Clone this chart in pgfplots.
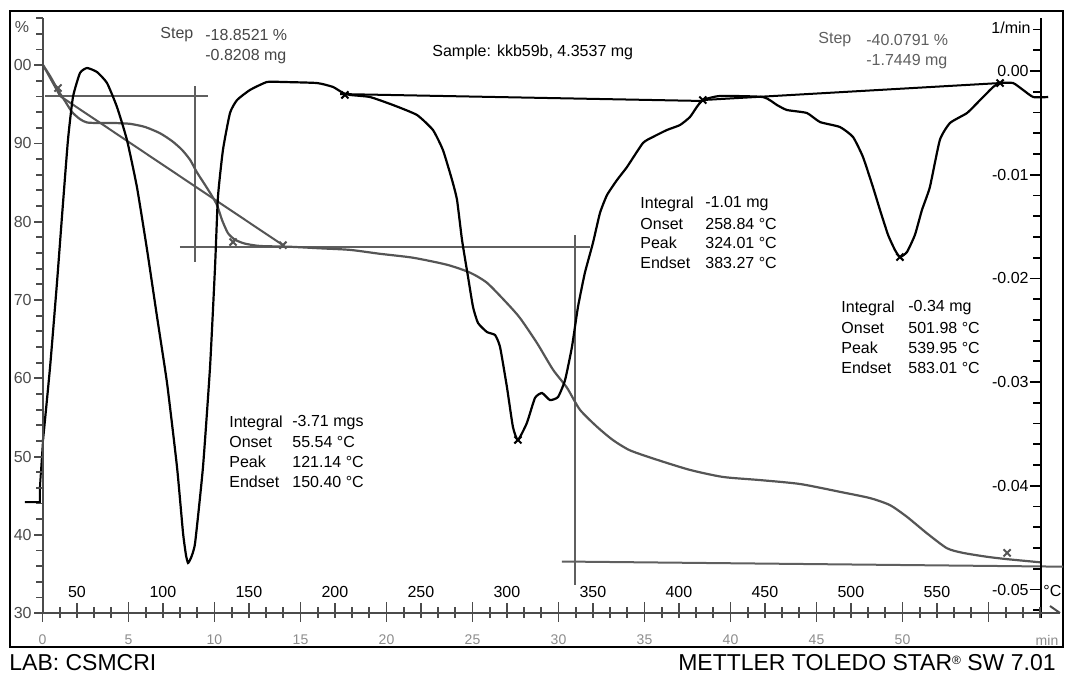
\documentclass[border=0pt]{standalone}
\usepackage{pgfplots}
\pgfplotsset{compat=1.18}
\usepackage{fontspec}
\setmainfont{Liberation Sans}
\definecolor{tgc}{RGB}{85,85,85}
\definecolor{annc}{RGB}{95,95,95}
\definecolor{axgray}{RGB}{75,75,75}
\definecolor{lblc}{RGB}{140,140,140}
\definecolor{stepc}{RGB}{70,70,70}
\pgfplotsset{
  mybase/.style={
    at={(5pt,-323.5pt)}, anchor=south west,
    scale only axis, width=526.5pt, height=318pt,
    xmin=11.1, xmax=623.3,
    xtick=\empty, ytick=\empty,
    clip=false,
  }
}
\begin{document}
\begin{tikzpicture}
\useasboundingbox (0,0) rectangle (533pt,-337.5pt);
% ---------------- TG axis (left, %) ----------------
\begin{axis}[mybase, ymin=25.68, ymax=106.91, axis line style={line width=1pt, black}]
% construction lines
\addplot[annc, line width=1pt] coordinates {(31.45,96.05) (126.2,96.05)};
\addplot[annc, line width=1pt] coordinates {(118.7,97.33) (118.7,74.85)};
\addplot[annc, line width=1pt] coordinates {(109.9,76.8) (348.3,76.8)};
\addplot[annc, line width=1pt] coordinates {(339.6,78.3) (339.6,33.6)};
\addplot[annc, line width=1pt] coordinates {(332.0,36.6) (623.3,35.94)};
% straight gray curve
\addplot[tgc, line width=1pt] coordinates {(30.3,100.0) (40.2,96.05) (169.8,77.0)};
% TG curve
\addplot[tgc, line width=1.1pt, smooth, tension=0.4] coordinates {
(30.3,100.0) (34.4,98.6) (39.0,96.8) (43.1,95.4) (47.2,94.0) (51.8,93.1)
(55.9,92.67) (63.4,92.6) (72.2,92.6) (80.9,92.5) (89.6,92.1) (98.3,91.3)
(105.3,90.3) (111.0,89.2) (115.8,87.9) (119.8,86.3) (124.5,84.7) (128.5,83.3)
(131.5,82.1) (134.4,80.2) (137.8,78.55) (141.9,77.7) (147.7,77.2) (156.5,76.9)
(173.9,76.8) (191.3,76.6) (208.8,76.4) (226.2,75.9) (245.4,75.4) (265.2,74.5)
(278.5,73.5) (288.4,72.2) (300.0,69.6) (307.6,67.7) (317.5,64.5) (326.8,61.1)
(334.9,58.8) (342.4,56.0) (352.4,53.8) (361.7,52.1) (371.5,50.8) (387.2,49.6)
(406.4,48.3) (425.6,47.4) (447.2,47.0) (470.4,46.5) (493.6,45.5) (511.1,44.7)
(522.7,43.8) (532.6,42.3) (544.2,40.2) (555.8,38.3) (565.2,37.7) (579.2,37.2)
(590.8,36.9) (610.0,36.5)};
% markers on TG
\addplot[only marks, tgc, mark=x, mark size=2.5pt, mark options={line width=1pt}] coordinates {
(39.0,97.07) (140.8,77.4) (169.8,77.0) (590.8,37.7)};
\end{axis}
% ---------------- DTG axis (right, 1/min) ----------------
\begin{axis}[mybase, ymin=-0.055545, ymax=0.005786, hide axis]
\addplot[black, line width=1pt] coordinates {(203.0,-0.00222) (413.9,-0.00289)};
\addplot[black, line width=1pt] coordinates {(413.9,-0.00280) (586.7,-0.00116)};
\addplot[black, line width=1pt] coordinates {(19.8,-0.04157) (28.5,-0.04157) (28.5,-0.04012) (30.3,-0.03558)};
\addplot[black, line width=1.1pt, smooth, tension=0.3] coordinates {
(30.3,-0.03558) (34.4,-0.02854)
(38.4,-0.02044) (41.3,-0.01408) (44.8,-0.00665) (47.7,-0.00251) (51.8,-0.00019)
(55.9,0.00029) (61.7,-0.00010) (67.5,-0.00116) (73.3,-0.00347) (79.1,-0.00665)
(84.9,-0.01119) (90.8,-0.01726) (96.6,-0.02372) (102.4,-0.03009) (108.2,-0.03819)
(111.7,-0.04455) (113.4,-0.04667) (114.6,-0.04744) (116.3,-0.04696) (118.7,-0.04552)
(123.3,-0.03819) (127.4,-0.02854) (130.3,-0.01890) (132.0,-0.01215) (134.9,-0.00762)
(139.0,-0.00405) (143.1,-0.00280) (150.6,-0.00183) (160.5,-0.00106) (169.8,-0.00106)
(189.6,-0.00116) (198.9,-0.00154) (204.7,-0.00212) (208.8,-0.00231) (220.4,-0.00251)
(233.8,-0.00328) (247.7,-0.00424) (257.0,-0.00569) (262.8,-0.00762) (268.1,-0.01051)
(271.0,-0.01244) (273.9,-0.01630) (277.4,-0.01986) (280.3,-0.02276) (283.2,-0.02430)
(288.4,-0.02517) (293.1,-0.02546) (296.0,-0.02661) (300.0,-0.03047) (303.5,-0.03433)
(306.4,-0.03558) (311.6,-0.03394) (316.3,-0.03153) (320.4,-0.03105) (325.0,-0.03173)
(329.7,-0.03144) (333.8,-0.02980) (337.8,-0.02661) (341.3,-0.02276) (345.3,-0.01948)
(350.0,-0.01659) (354.1,-0.01369) (358.2,-0.01196) (364.0,-0.01051) (369.8,-0.00926)
(379.1,-0.00694) (384.9,-0.00636) (393.0,-0.00569) (400.6,-0.00521) (406.4,-0.00444)
(410.4,-0.00347) (413.9,-0.00280) (423.8,-0.00241) (448.9,-0.00251) (457.0,-0.00328)
(462.8,-0.00376) (474.4,-0.00405) (482.0,-0.00492) (493.6,-0.00540) (501.2,-0.00636)
(507.0,-0.00829) (512.8,-0.01119) (516.9,-0.01340) (521.6,-0.01581) (525.6,-0.01726)
(528.5,-0.01794) (532.6,-0.01745) (537.2,-0.01581) (541.3,-0.01340) (545.9,-0.01119)
(551.7,-0.00665) (557.6,-0.00501) (567.5,-0.00405) (575.1,-0.00280) (582.7,-0.00154)
(586.7,-0.00116) (594.3,-0.00116) (600.1,-0.00183) (606.0,-0.00251) (614.7,-0.00251)};
\addplot[only marks, black, mark=x, mark size=2.5pt, mark options={line width=1pt}] coordinates {
(306.4,-0.03558) (528.5,-0.01794) (413.9,-0.00280) (205.8,-0.00231) (586.7,-0.00116)};
\end{axis}
% ---------------- decorations in pixel coordinates ----------------
\begin{scope}[x=0.5pt, y=-0.5pt, font=\fontsize{8}{9.6}\selectfont]
% left axis
\draw[axgray, line width=1pt] (43,18) -- (43,614);
\foreach \v in {30,32,...,106} {
  \pgfmathsetmacro\py{65.1+(100-\v)*7.83}
  \draw[axgray, line width=0.9pt] (36,\py) -- (43,\py);
}
\foreach \v/\py in {90/143.4, 80/221.7, 70/300.0, 60/378.3, 50/456.6, 40/534.9, 30/613.2} {
  \draw[axgray, line width=0.9pt] (34,\py) -- (43,\py);
  \node[anchor=east, inner sep=0pt, text=axgray] at (32,\py) {\v};
}
\draw[axgray, line width=0.9pt] (34,65.1) -- (43,65.1);
\node[anchor=east, inner sep=0pt, text=axgray] at (32,65.1) {00};
\node[anchor=center, inner sep=0pt, text=axgray] at (22,27) {\%};
% right axis
\draw[black, line width=1pt] (1041,18) -- (1041,618);
\foreach \k in {-26,...,2} {
  \pgfmathsetmacro\py{71-\k*20.74}
  \draw[black, line width=0.9pt] (1033,\py) -- (1041,\py);
}
\foreach \lab/\py in {0.00/71, -0.01/174.7, -0.02/278.4, -0.03/382.1, -0.04/485.8, -0.05/589.5} {
  \draw[black, line width=0.9pt] (1030,\py) -- (1041,\py);
  \node[anchor=east, inner sep=0pt] at (1029,\py) {\lab};
}
\node[anchor=east, inner sep=0pt] at (1031,28) {1/min};
% bottom axis
\draw[axgray, line width=1pt] (43,613) -- (1060,613);
\draw[axgray, line width=1pt] (1050,606) -- (1060,613);
\foreach \tm in {0,...,58} {
  \pgfmathsetmacro\px{42.5+17.2*\tm}
  \draw[axgray, line width=0.9pt] (\px,607) -- (\px,618);
}
\foreach \tm in {0,5,...,55} {
  \pgfmathsetmacro\px{42.5+17.2*\tm}
  \draw[axgray, line width=0.9pt] (\px,602) -- (\px,622);
}
\foreach \tc in {50,100,...,550} {
  \pgfmathsetmacro\px{42.5+1.72*(\tc-30)}
  \draw[axgray, line width=0.9pt] (\px,603) -- (\px,616);
  \node[inner sep=0pt] at (\px,592) {\tc};
}
\foreach \tm in {0,5,...,50} {
  \pgfmathsetmacro\px{42.5+17.2*\tm}
  \node[inner sep=0pt, text=lblc, font=\fontsize{7}{8}\selectfont] at (\px,640) {\tm};
}
\node[inner sep=0pt, text=lblc, font=\fontsize{7}{8}\selectfont] at (1047,640) {min};
\node[anchor=west, inner sep=0pt] at (1043,591) {°C};
% annotations
\node[anchor=west, inner sep=0pt, text=stepc] at (160,35) {Step};
\node[anchor=west, inner sep=0pt, text=stepc] at (205,35) {-18.8521 \%};
\node[anchor=west, inner sep=0pt, text=stepc] at (205,57) {-0.8208 mg};
\node[anchor=west, inner sep=0pt] at (432,52) {Sample: kkb59b, 4.3537 mg};
\node[anchor=west, inner sep=0pt, text=annc] at (818,40) {Step};
\node[anchor=west, inner sep=0pt, text=annc] at (866,40) {-40.0791 \%};
\node[anchor=west, inner sep=0pt, text=annc] at (866,62) {-1.7449 mg};
% integral blocks
\foreach \lab/\val/\py in {Integral/{-3.71 mgs}/423, Onset/{55.54 °C}/442, Peak/{121.14 °C}/462, Endset/{150.40 °C}/482} {
  \node[anchor=west, inner sep=0pt] at (229,\py) {\lab};
  \node[anchor=west, inner sep=0pt] at (292,\py) {\val};
}
\foreach \lab/\val/\py in {Integral/{-1.01 mg}/204, Onset/{258.84 °C}/224, Peak/{324.01 °C}/243, Endset/{383.27 °C}/263} {
  \node[anchor=west, inner sep=0pt] at (640,\py) {\lab};
  \node[anchor=west, inner sep=0pt] at (705,\py) {\val};
}
\foreach \lab/\val/\py in {Integral/{-0.34 mg}/308, Onset/{501.98 °C}/328, Peak/{539.95 °C}/348, Endset/{583.01 °C}/368} {
  \node[anchor=west, inner sep=0pt] at (841,\py) {\lab};
  \node[anchor=west, inner sep=0pt] at (908,\py) {\val};
}
% footer
\node[anchor=west, inner sep=0pt, font=\fontsize{11.5}{13}\selectfont] at (9,663) {LAB: CSMCRI};
\node[anchor=east, inner sep=0pt, font=\fontsize{11.5}{13}\selectfont] at (1056,663) {METTLER TOLEDO STAR\raisebox{0.55ex}{\fontsize{6}{7}\selectfont ®} SW 7.01};
\end{scope}
\end{tikzpicture}
\end{document}
